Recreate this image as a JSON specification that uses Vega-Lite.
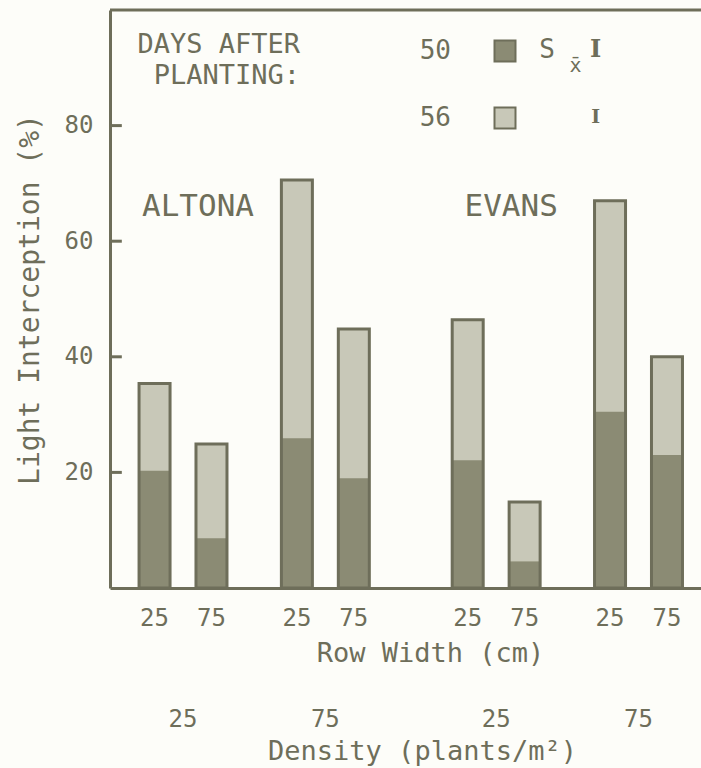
{
  "$schema": "https://vega.github.io/schema/vega-lite/v6.json",
  "width": 591,
  "height": 578,
  "autosize": {"type": "none"},
  "padding": {"left": 110, "top": 10, "right": 0, "bottom": 180},
  "background": "#fdfdf9",
  "config": {
    "view": {"stroke": null},
    "font": "DejaVu Sans Mono",
    "axis": {
      "labelFont": "DejaVu Sans Mono",
      "titleFont": "DejaVu Sans Mono",
      "labelColor": "#6e6e5a",
      "titleColor": "#6e6e5a",
      "domainColor": "#6e6e5a",
      "tickColor": "#6e6e5a",
      "grid": false,
      "titleFontWeight": "normal"
    }
  },
  "datasets": {
    "bars": [
      {"bar": "Altona·25·25", "variety": "Altona", "density": 25, "row": 25, "days": "56", "value": 35.4},
      {"bar": "Altona·25·75", "variety": "Altona", "density": 25, "row": 75, "days": "56", "value": 24.9},
      {"bar": "Altona·75·25", "variety": "Altona", "density": 75, "row": 25, "days": "56", "value": 70.6},
      {"bar": "Altona·75·75", "variety": "Altona", "density": 75, "row": 75, "days": "56", "value": 44.8},
      {"bar": "Evans·25·25", "variety": "Evans", "density": 25, "row": 25, "days": "56", "value": 46.4},
      {"bar": "Evans·25·75", "variety": "Evans", "density": 25, "row": 75, "days": "56", "value": 14.9},
      {"bar": "Evans·75·25", "variety": "Evans", "density": 75, "row": 25, "days": "56", "value": 67.0},
      {"bar": "Evans·75·75", "variety": "Evans", "density": 75, "row": 75, "days": "56", "value": 40.0},
      {"bar": "Altona·25·25", "variety": "Altona", "density": 25, "row": 25, "days": "50", "value": 20.3},
      {"bar": "Altona·25·75", "variety": "Altona", "density": 25, "row": 75, "days": "50", "value": 8.6},
      {"bar": "Altona·75·25", "variety": "Altona", "density": 75, "row": 25, "days": "50", "value": 25.9},
      {"bar": "Altona·75·75", "variety": "Altona", "density": 75, "row": 75, "days": "50", "value": 19.0},
      {"bar": "Evans·25·25", "variety": "Evans", "density": 25, "row": 25, "days": "50", "value": 22.1},
      {"bar": "Evans·25·75", "variety": "Evans", "density": 25, "row": 75, "days": "50", "value": 4.6},
      {"bar": "Evans·75·25", "variety": "Evans", "density": 75, "row": 25, "days": "50", "value": 30.5},
      {"bar": "Evans·75·75", "variety": "Evans", "density": 75, "row": 75, "days": "50", "value": 23.0}
    ],
    "varieties": [
      {"bar": "Altona·25", "label": "ALTONA"},
      {"bar": "Evans·25", "label": "EVANS"}
    ],
    "yticks": [{"tick": 20}, {"tick": 40}, {"tick": 60}, {"tick": 80}],
    "one": [{}]
  },
  "layer": [
    {
      "layer": [
        {
          "data": {"name": "bars"},
          "mark": {"type": "bar", "width": 31, "strokeWidth": 0},
          "encoding": {
            "x": {
              "field": "bar", "type": "nominal",
              "scale": {"type": "band", "domain": ["Altona·25·25","Altona·25","Altona·25·75","gapA1","gapA2","Altona·75·25","Altona·75","Altona·75·75","gapM1","gapM2","gapM3","Evans·25·25","Evans·25","Evans·25·75","gapE1","gapE2","Evans·75·25","Evans·75","Evans·75·75"], "paddingInner": 0, "paddingOuter": 0.88, "align": 0.605},
              "axis": {
                "title": "Row Width (cm)",
                "labelExpr": "length(split(datum.value,'·'))==3 ? split(datum.value,'·')[2] : ''",
                "ticks": false, "domainWidth": 3, "labelFontSize": 24, "labelPadding": 18, "labelAngle": 0,
                "labelOverlap": false, "titleFontSize": 27, "titlePadding": 10, "titleX": 320
              }
            },
            "y": {
              "field": "value", "type": "quantitative", "stack": null,
              "scale": {"domain": [0, 100], "nice": false},
              "axis": {
                "values": [20, 40, 60, 80], "title": "Light Interception (%)", "titleFontSize": 28, "labelFontSize": 24,
                "ticks": false, "domainWidth": 3, "labelPadding": 17, "titlePadding": 20
              }
            },
            "color": {
              "field": "days", "type": "nominal",
              "scale": {"domain": ["50", "56"], "range": ["#8b8b74", "#c8c8b8"]},
              "legend": {
                "orient": "none", "legendX": 27, "legendY": 28,
                "title": ["DAYS AFTER", "PLANTING:"], "titleOrient": "left", "titleAlign": "right", "titleAnchor": "start", "titleBaseline": "top",
                "titleFontSize": 27, "titleFont": "DejaVu Sans Mono", "titleFontWeight": "normal", "titleColor": "#6e6e5a", "titleLineHeight": 31, "titlePadding": -46,
                "labelFontSize": 26, "labelFont": "DejaVu Sans Mono", "labelColor": "#6e6e5a", "labelAlign": "right", "labelOffset": -67, "symbolOffset": 75,
                "symbolType": "square", "symbolSize": 441, "symbolStrokeColor": "#6e6e5a", "symbolStrokeWidth": 2, "rowPadding": 37,
                "encode": {
                  "symbols": {"update": {"stroke": {"value": "#6e6e5a"}, "strokeWidth": {"value": 2}}},
                  "title": {"update": {"dy": {"value": -6}}}
                }
              }
            },
            "order": {"field": "days", "sort": "descending"}
          }
        },
        {
          "data": {"name": "bars"},
          "transform": [{"filter": "datum.days == '56'"}],
          "mark": {"type": "bar", "width": 31, "filled": false, "stroke": "#6e6e5a", "strokeWidth": 3},
          "encoding": {
            "x": {
              "field": "bar", "type": "nominal",
              "scale": {"type": "band", "domain": ["Altona·25·25","Altona·25","Altona·25·75","gapA1","gapA2","Altona·75·25","Altona·75","Altona·75·75","gapM1","gapM2","gapM3","Evans·25·25","Evans·25","Evans·25·75","gapE1","gapE2","Evans·75·25","Evans·75","Evans·75·75"], "paddingInner": 0, "paddingOuter": 0.88, "align": 0.605},
              "axis": null
            },
            "y": {"field": "value", "type": "quantitative", "stack": null}
          }
        },
        {
          "data": {"name": "one"},
          "mark": {"type": "rule", "color": "#6e6e5a", "strokeWidth": 3},
          "encoding": {"y": {"datum": 100, "type": "quantitative"}}
        },
        {
          "data": {"name": "varieties"},
          "mark": {"type": "text", "fontSize": 31, "font": "DejaVu Sans Mono", "color": "#6e6e5a", "dx": 15},
          "encoding": {
            "x": {
              "field": "bar", "type": "nominal",
              "scale": {"type": "band", "domain": ["Altona·25·25","Altona·25","Altona·25·75","gapA1","gapA2","Altona·75·25","Altona·75","Altona·75·75","gapM1","gapM2","gapM3","Evans·25·25","Evans·25","Evans·25·75","gapE1","gapE2","Evans·75·25","Evans·75","Evans·75·75"], "paddingInner": 0, "paddingOuter": 0.88, "align": 0.605},
              "axis": {
                "orient": "bottom", "offset": 105, "domain": false, "ticks": false,
                "title": "Density (plants/m²)",
                "labelExpr": "length(split(datum.value,'·'))==2 ? split(datum.value,'·')[1] : ''",
                "labelFontSize": 24, "labelPadding": 14, "labelAngle": 0, "labelOverlap": false,
                "titleFontSize": 27, "titlePadding": 7, "titleX": 312
              }
            },
            "y": {"datum": 66, "type": "quantitative"},
            "text": {"field": "label"}
          }
        },
        {
          "data": {"name": "one"},
          "mark": {"type": "text", "fontSize": 26, "font": "DejaVu Sans Mono", "color": "#6e6e5a", "dx": -6, "text": "S"},
          "encoding": {
            "x": {"datum": "gapE1", "type": "nominal", "axis": null},
            "y": {"datum": 93, "type": "quantitative"}
          }
        },
        {
          "data": {"name": "one"},
          "mark": {"type": "text", "fontSize": 20, "font": "DejaVu Sans Mono", "color": "#6e6e5a", "dx": -6, "text": "x̄"},
          "encoding": {
            "x": {"datum": "gapE2", "type": "nominal", "axis": null},
            "y": {"datum": 90.3, "type": "quantitative"}
          }
        },
        {
          "data": {"name": "one"},
          "mark": {"type": "text", "fontSize": 24, "font": "DejaVu Serif", "fontWeight": "bold", "color": "#6e6e5a", "dx": 14, "text": "I"},
          "encoding": {
            "x": {"datum": "gapE2", "type": "nominal", "axis": null},
            "y": {"datum": 93, "type": "quantitative"}
          }
        },
        {
          "data": {"name": "one"},
          "mark": {"type": "text", "fontSize": 19, "font": "DejaVu Serif", "fontWeight": "bold", "color": "#6e6e5a", "dx": 14, "text": "I"},
          "encoding": {
            "x": {"datum": "gapE2", "type": "nominal", "axis": null},
            "y": {"datum": 81.5, "type": "quantitative"}
          }
        }
      ],
      "resolve": {"axis": {"x": "independent"}}
    },
    {
      "data": {"name": "yticks"},
      "mark": {"type": "rule", "color": "#6e6e5a", "strokeWidth": 3},
      "encoding": {
        "x": {"datum": 0, "type": "quantitative", "scale": {"domain": [0, 100], "nice": false}, "axis": null},
        "x2": {"datum": 2},
        "y": {"field": "tick", "type": "quantitative"}
      }
    }
  ],
  "resolve": {"scale": {"x": "independent"}, "axis": {"x": "independent"}}
}
